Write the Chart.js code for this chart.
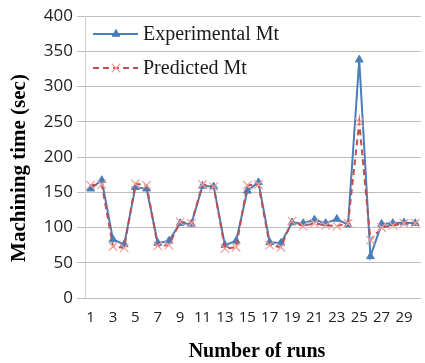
<!DOCTYPE html>
<html>
<head>
<meta charset="utf-8">
<title>Machining time per run</title>
<script src="https://cdn.jsdelivr.net/npm/chart.js@4"></script>
<style>
  html, body { margin: 0; padding: 0; background: #fff; overflow: hidden; }
  #wrap { position: relative; width: 428px; height: 363px; }
</style>
</head>
<body>
<div id="wrap"><canvas id="chart"></canvas></div>
<script>
// run numbers on the category axis
const runs = ['1','2','3','4','5','6','7','8','9','10','11','12','13','14','15',
  '16','17','18','19','20','21','22','23','24','25','26','27','28','29','30'];
// measured vs model machining time, seconds
const experimentalMt = [155, 167, 83, 76, 157, 155, 78, 81, 106, 105, 159, 158, 75, 81, 152,
  164, 79, 78, 107, 106, 111, 106, 112, 104, 338, 59, 105, 106, 107, 106];
const predictedMt = [160, 161, 73, 71, 162, 160, 74, 75, 108, 106, 161, 158, 70, 72, 160,
  161, 75, 72, 109, 102, 106, 103, 102, 106, 249, 82, 100, 103, 106, 106];
const yTicks = { min: 0, max: 400, step: 50 };

const BLUE = '#4a7ebb';
const RED = '#c0504d';
const RED_MARK = '#f0a09c';
const GRID = '#bdbdbd';
const SERIF = '"Liberation Serif", "Times New Roman", serif';
const SANS = '"Open Sans", "Liberation Sans", sans-serif';

// legend sits inside the plot, top-left, drawn as line + marker + label
const insideLegend = {
  id: 'insideLegend',
  afterDatasetsDraw(chart) {
    const ctx = chart.ctx;
    const rows = [34, 68];
    ctx.save();
    chart.data.datasets.forEach((ds, i) => {
      const y = rows[i];
      ctx.beginPath();
      ctx.strokeStyle = ds.borderColor;
      ctx.lineWidth = ds.borderWidth;
      ctx.setLineDash(ds.borderDash || []);
      ctx.moveTo(93, y);
      ctx.lineTo(138, y);
      ctx.stroke();
      ctx.setLineDash([]);
      ctx.fillStyle = ds.pointBackgroundColor;
      ctx.strokeStyle = ds.pointBorderColor;
      ctx.lineWidth = ds.pointBorderWidth;
      Chart.helpers.drawPoint(ctx, { pointStyle: ds.pointStyle, radius: ds.pointRadius, rotation: 0, borderWidth: ds.pointBorderWidth }, 116, y);
      ctx.fillStyle = '#1a1a1a';
      ctx.font = '20px ' + SERIF;
      ctx.textBaseline = 'middle';
      ctx.textAlign = 'left';
      ctx.fillText(ds.label, 143, y + 1);
    });
    ctx.restore();
  }
};

// bold serif axis titles
const axisTitles = {
  id: 'axisTitles',
  afterDraw(chart) {
    const ctx = chart.ctx;
    ctx.save();
    ctx.fillStyle = '#000';
    ctx.textAlign = 'center';
    ctx.textBaseline = 'middle';
    ctx.font = 'bold 20px ' + SERIF;
    ctx.fillText('Number of runs', 257, 352);
    ctx.translate(20, 168);
    ctx.rotate(-Math.PI / 2);
    ctx.font = 'bold 21px ' + SERIF;
    ctx.fillText('Machining time (sec)', 0, 0);
    ctx.restore();
  }
};

new Chart(document.getElementById('chart'), {
  type: 'line',
  data: {
    labels: runs,
    datasets: [
      {
        label: 'Experimental Mt',
        data: experimentalMt,
        borderColor: BLUE,
        borderWidth: 2,
        pointStyle: 'triangle',
        pointRadius: 4.5,
        pointBackgroundColor: BLUE,
        pointBorderColor: BLUE,
        pointBorderWidth: 1,
        tension: 0,
        order: 1
      },
      {
        label: 'Predicted Mt',
        data: predictedMt,
        borderColor: RED,
        borderWidth: 2,
        borderDash: [6, 4],
        pointStyle: 'crossRot',
        pointRadius: 6,
        pointBackgroundColor: RED_MARK,
        pointBorderColor: RED_MARK,
        pointBorderWidth: 1.2,
        tension: 0,
        order: 0
      }
    ]
  },
  options: {
    responsive: true,
    maintainAspectRatio: false,
    animation: false,
    layout: { padding: { top: 16, left: 0, right: 0, bottom: 0 } },
    plugins: { legend: { display: false }, tooltip: { enabled: false } },
    scales: {
      x: {
        offset: true,
        grid: { display: true, drawOnChartArea: false, drawTicks: false, color: GRID },
        border: { display: true, color: GRID, width: 1 },
        ticks: {
          autoSkip: false, maxRotation: 0, minRotation: 0, padding: 11,
          color: '#222', font: { family: SANS, size: 15 },
          callback: (v, i) => (i % 2 === 0 ? runs[i] : '')
        },
        afterFit: (s) => { s.height = 65; }
      },
      y: {
        min: yTicks.min,
        max: yTicks.max,
        grid: { color: GRID, tickLength: 8 },
        border: { display: true, color: '#d0d0d0', width: 1 },
        ticks: {
          stepSize: yTicks.step, padding: 4,
          color: '#222', font: { family: SANS, size: 17 }
        },
        afterFit: (s) => { s.width = 85; }
      }
    }
  },
  plugins: [insideLegend, axisTitles]
});
</script>
</body>
</html>
